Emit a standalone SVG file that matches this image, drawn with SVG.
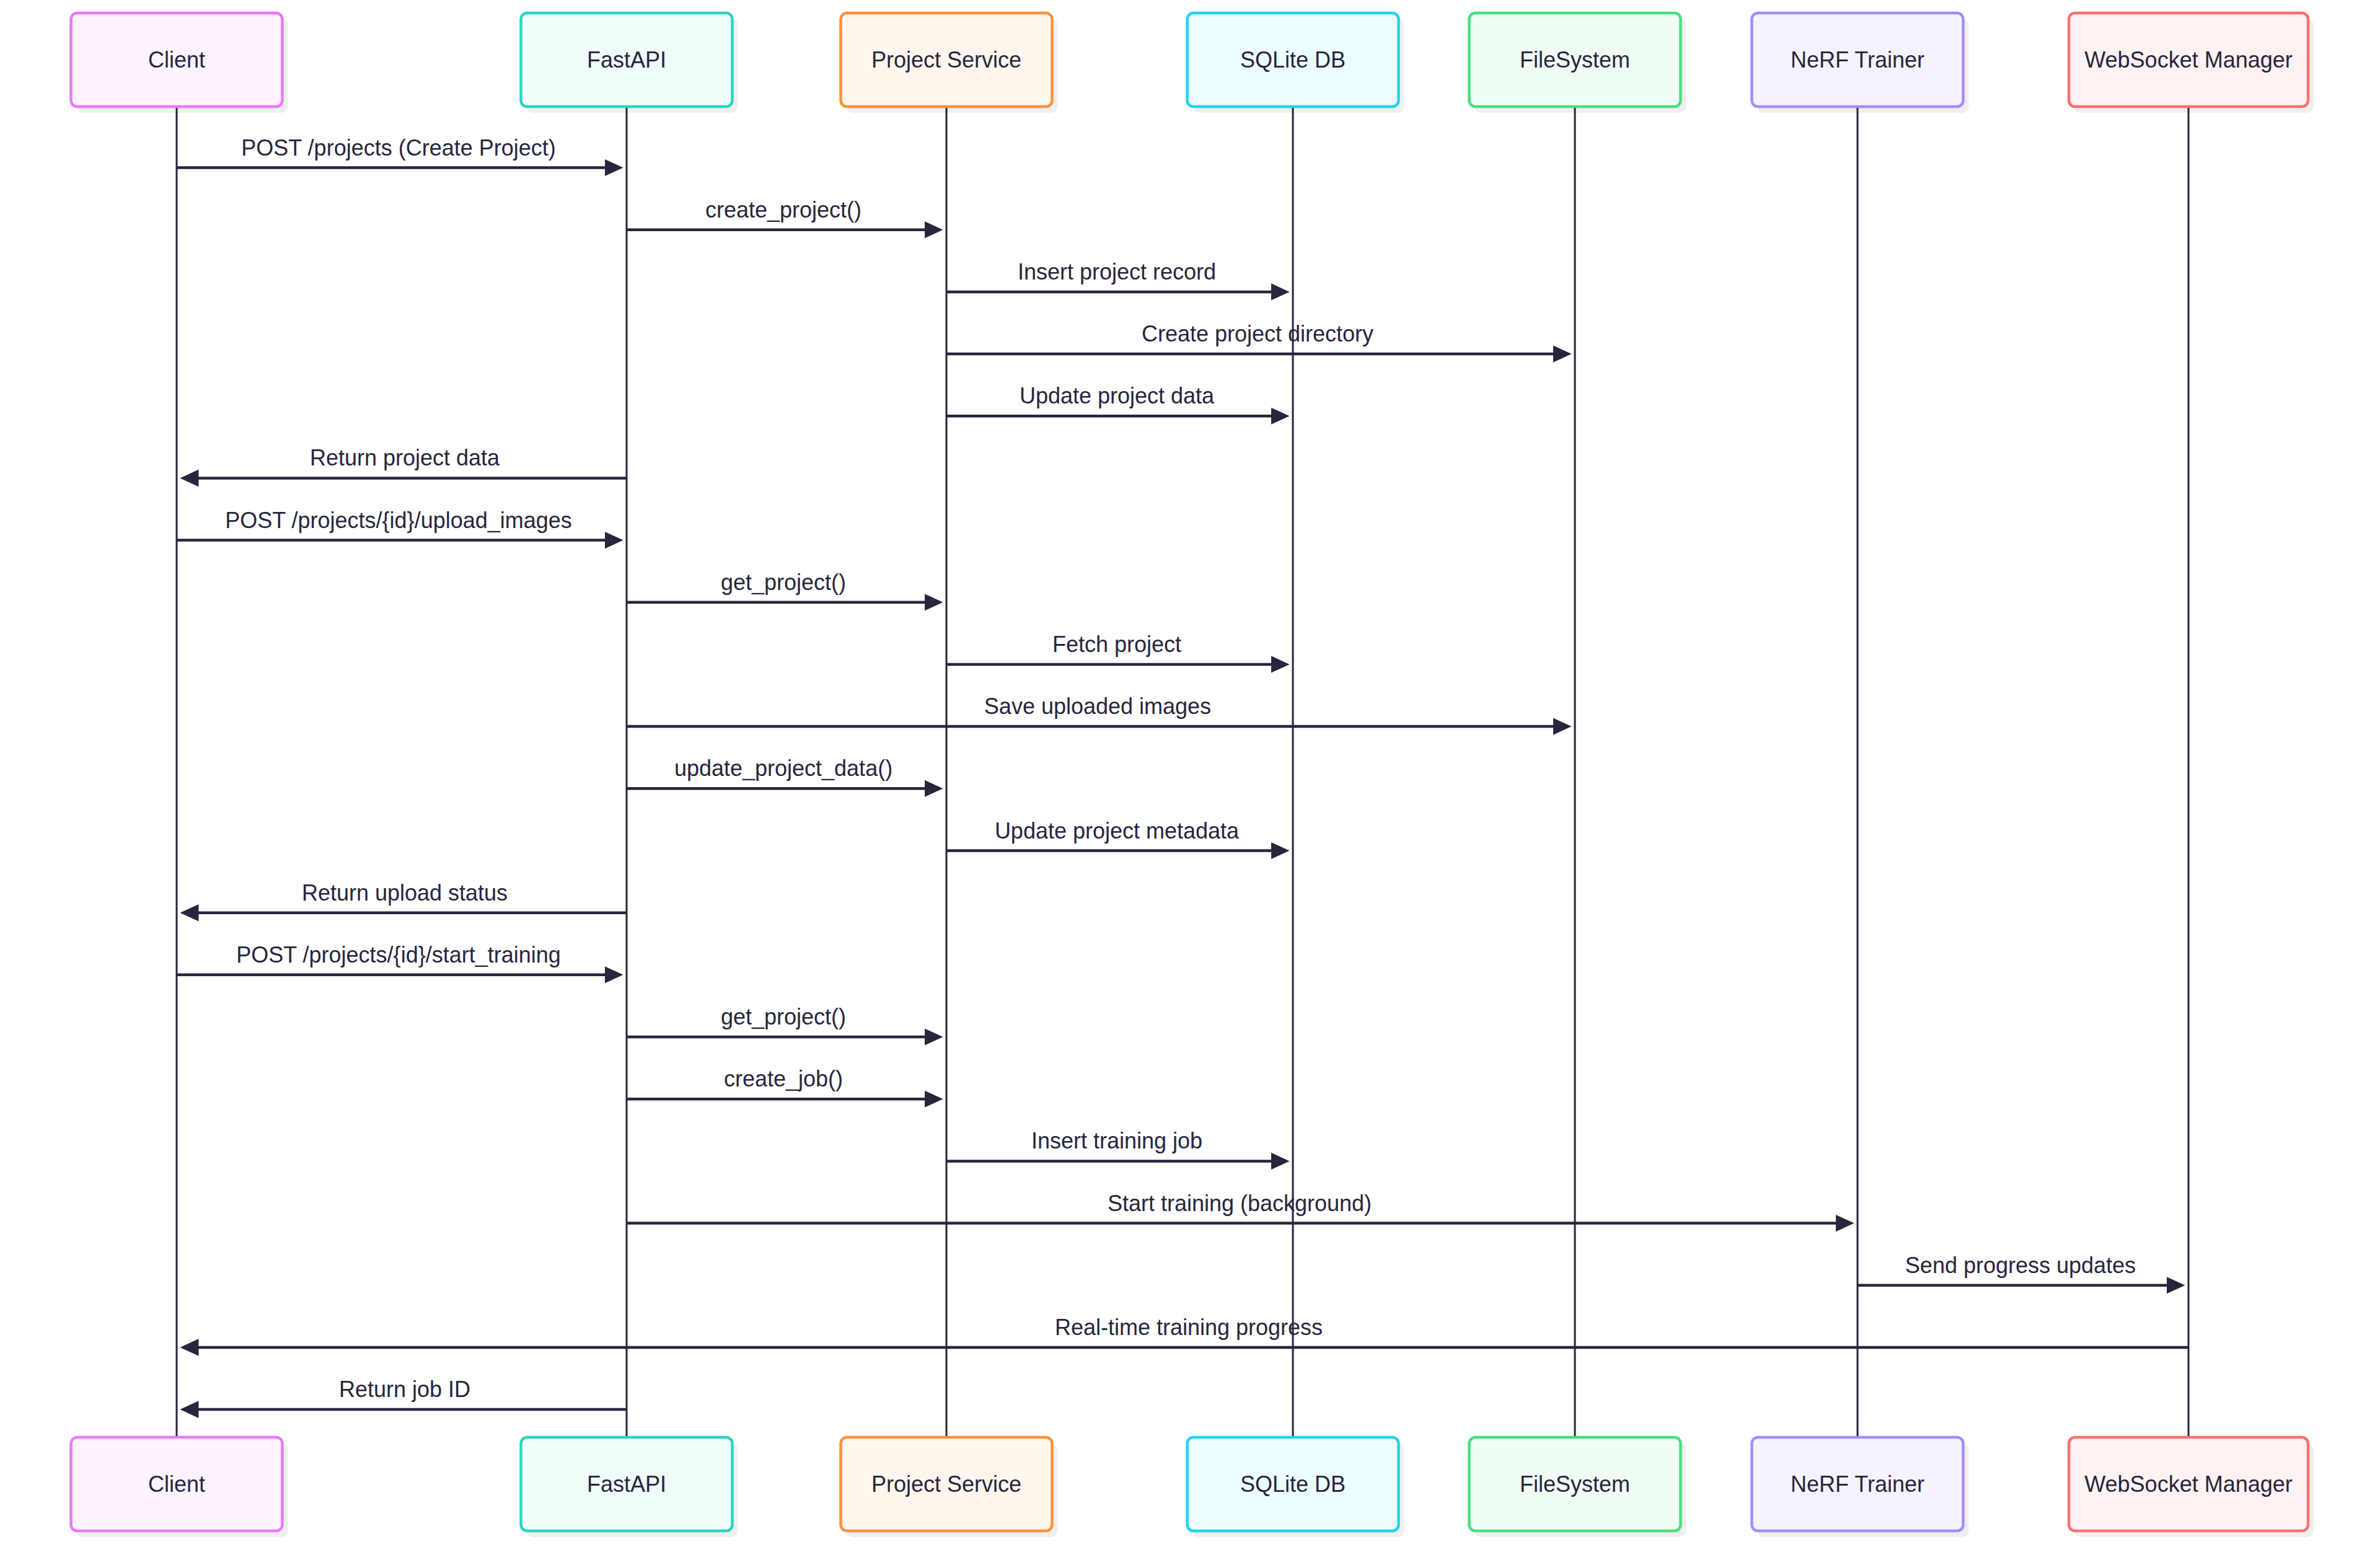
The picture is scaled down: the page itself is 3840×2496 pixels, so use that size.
<svg xmlns="http://www.w3.org/2000/svg" width="3840" height="2496" viewBox="0 0 3840 2496">
<style>
.shadow{fill:#efefef;}
.box{stroke-width:4.5;}
.lbl{font-family:"Liberation Sans",Arial,sans-serif;font-size:36px;fill:#28253d;text-anchor:middle;}
.actor{dominant-baseline:central;}
.life{stroke:#28253d;stroke-width:3;fill:none;}
.msg{stroke:#28253d;stroke-width:4.5;fill:none;}
.r{marker-end:url(#ah);}
</style>
<defs>
<marker id="ah" markerUnits="userSpaceOnUse" markerWidth="30" markerHeight="30" viewBox="0 0 25 24" refX="5" refY="12" orient="auto">
<path d="M0,0.5 L25,12 L0,23.5 z" fill="#28253d"/>
</marker>
</defs>
<rect width="3840" height="2496" fill="#ffffff"/>
<g id="client">
<rect class="shadow" x="123.5" y="31" width="341" height="151" rx="10"/>
<rect class="box" x="114.5" y="21" width="341" height="151" rx="10" fill="#fdf4ff" stroke="#e879f9"/>
<text class="lbl actor" x="285" y="96.5">Client</text>
<rect class="shadow" x="123.5" y="2329" width="341" height="151" rx="10"/>
<rect class="box" x="114.5" y="2319" width="341" height="151" rx="10" fill="#fdf4ff" stroke="#e879f9"/>
<text class="lbl actor" x="285" y="2394.5">Client</text>
</g>
<g id="fastapi">
<rect class="shadow" x="849.5" y="31" width="341" height="151" rx="10"/>
<rect class="box" x="840.5" y="21" width="341" height="151" rx="10" fill="#f0fdfa" stroke="#2dd4bf"/>
<text class="lbl actor" x="1011" y="96.5">FastAPI</text>
<rect class="shadow" x="849.5" y="2329" width="341" height="151" rx="10"/>
<rect class="box" x="840.5" y="2319" width="341" height="151" rx="10" fill="#f0fdfa" stroke="#2dd4bf"/>
<text class="lbl actor" x="1011" y="2394.5">FastAPI</text>
</g>
<g id="project-service">
<rect class="shadow" x="1365.5" y="31" width="341" height="151" rx="10"/>
<rect class="box" x="1356.5" y="21" width="341" height="151" rx="10" fill="#fff7ed" stroke="#fb923c"/>
<text class="lbl actor" x="1527" y="96.5">Project Service</text>
<rect class="shadow" x="1365.5" y="2329" width="341" height="151" rx="10"/>
<rect class="box" x="1356.5" y="2319" width="341" height="151" rx="10" fill="#fff7ed" stroke="#fb923c"/>
<text class="lbl actor" x="1527" y="2394.5">Project Service</text>
</g>
<g id="sqlite-db">
<rect class="shadow" x="1924.5" y="31" width="341" height="151" rx="10"/>
<rect class="box" x="1915.5" y="21" width="341" height="151" rx="10" fill="#ecfeff" stroke="#22d3ee"/>
<text class="lbl actor" x="2086" y="96.5">SQLite DB</text>
<rect class="shadow" x="1924.5" y="2329" width="341" height="151" rx="10"/>
<rect class="box" x="1915.5" y="2319" width="341" height="151" rx="10" fill="#ecfeff" stroke="#22d3ee"/>
<text class="lbl actor" x="2086" y="2394.5">SQLite DB</text>
</g>
<g id="filesystem">
<rect class="shadow" x="2379.5" y="31" width="341" height="151" rx="10"/>
<rect class="box" x="2370.5" y="21" width="341" height="151" rx="10" fill="#f0fdf4" stroke="#4ade80"/>
<text class="lbl actor" x="2541" y="96.5">FileSystem</text>
<rect class="shadow" x="2379.5" y="2329" width="341" height="151" rx="10"/>
<rect class="box" x="2370.5" y="2319" width="341" height="151" rx="10" fill="#f0fdf4" stroke="#4ade80"/>
<text class="lbl actor" x="2541" y="2394.5">FileSystem</text>
</g>
<g id="nerf-trainer">
<rect class="shadow" x="2835.5" y="31" width="341" height="151" rx="10"/>
<rect class="box" x="2826.5" y="21" width="341" height="151" rx="10" fill="#f5f3ff" stroke="#a78bfa"/>
<text class="lbl actor" x="2997" y="96.5">NeRF Trainer</text>
<rect class="shadow" x="2835.5" y="2329" width="341" height="151" rx="10"/>
<rect class="box" x="2826.5" y="2319" width="341" height="151" rx="10" fill="#f5f3ff" stroke="#a78bfa"/>
<text class="lbl actor" x="2997" y="2394.5">NeRF Trainer</text>
</g>
<g id="websocket-manager">
<rect class="shadow" x="3347" y="31" width="386" height="151" rx="10"/>
<rect class="box" x="3338" y="21" width="386" height="151" rx="10" fill="#fef2f2" stroke="#f87171"/>
<text class="lbl actor" x="3531" y="96.5">WebSocket Manager</text>
<rect class="shadow" x="3347" y="2329" width="386" height="151" rx="10"/>
<rect class="box" x="3338" y="2319" width="386" height="151" rx="10" fill="#fef2f2" stroke="#f87171"/>
<text class="lbl actor" x="3531" y="2394.5">WebSocket Manager</text>
</g>
<g id="lifelines">
<line class="life" x1="285" y1="174" x2="285" y2="2317"/>
<line class="life" x1="1011" y1="174" x2="1011" y2="2317"/>
<line class="life" x1="1527" y1="174" x2="1527" y2="2317"/>
<line class="life" x1="2086" y1="174" x2="2086" y2="2317"/>
<line class="life" x1="2541" y1="174" x2="2541" y2="2317"/>
<line class="life" x1="2997" y1="174" x2="2997" y2="2317"/>
<line class="life" x1="3531" y1="174" x2="3531" y2="2317"/>
</g>
<g id="messages">
<line class="msg r" x1="285" y1="270.5" x2="981.5" y2="270.5"/>
<text class="lbl" x="643" y="250.5">POST /projects (Create Project)</text>
<line class="msg r" x1="1011" y1="370.7" x2="1497.5" y2="370.7"/>
<text class="lbl" x="1264" y="350.7">create_project()</text>
<line class="msg r" x1="1527" y1="470.9" x2="2056.5" y2="470.9"/>
<text class="lbl" x="1802" y="450.9">Insert project record</text>
<line class="msg r" x1="1527" y1="571.1" x2="2511.5" y2="571.1"/>
<text class="lbl" x="2029" y="551.1">Create project directory</text>
<line class="msg r" x1="1527" y1="671.2" x2="2056.5" y2="671.2"/>
<text class="lbl" x="1802" y="651.2">Update project data</text>
<line class="msg r" x1="1011" y1="771.4" x2="314.5" y2="771.4"/>
<text class="lbl" x="653" y="751.4">Return project data</text>
<line class="msg r" x1="285" y1="871.6" x2="981.5" y2="871.6"/>
<text class="lbl" x="643" y="851.6">POST /projects/{id}/upload_images</text>
<line class="msg r" x1="1011" y1="971.8" x2="1497.5" y2="971.8"/>
<text class="lbl" x="1264" y="951.8">get_project()</text>
<line class="msg r" x1="1527" y1="1071.9" x2="2056.5" y2="1071.9"/>
<text class="lbl" x="1802" y="1051.9">Fetch project</text>
<line class="msg r" x1="1011" y1="1172.1" x2="2511.5" y2="1172.1"/>
<text class="lbl" x="1771" y="1152.1">Save uploaded images</text>
<line class="msg r" x1="1011" y1="1272.3" x2="1497.5" y2="1272.3"/>
<text class="lbl" x="1264" y="1252.3">update_project_data()</text>
<line class="msg r" x1="1527" y1="1372.5" x2="2056.5" y2="1372.5"/>
<text class="lbl" x="1802" y="1352.5">Update project metadata</text>
<line class="msg r" x1="1011" y1="1472.7" x2="314.5" y2="1472.7"/>
<text class="lbl" x="653" y="1452.7">Return upload status</text>
<line class="msg r" x1="285" y1="1572.8" x2="981.5" y2="1572.8"/>
<text class="lbl" x="643" y="1552.8">POST /projects/{id}/start_training</text>
<line class="msg r" x1="1011" y1="1673" x2="1497.5" y2="1673"/>
<text class="lbl" x="1264" y="1653">get_project()</text>
<line class="msg r" x1="1011" y1="1773.2" x2="1497.5" y2="1773.2"/>
<text class="lbl" x="1264" y="1753.2">create_job()</text>
<line class="msg r" x1="1527" y1="1873.4" x2="2056.5" y2="1873.4"/>
<text class="lbl" x="1802" y="1853.4">Insert training job</text>
<line class="msg r" x1="1011" y1="1973.6" x2="2967.5" y2="1973.6"/>
<text class="lbl" x="2000" y="1953.6">Start training (background)</text>
<line class="msg r" x1="2997" y1="2073.7" x2="3501.5" y2="2073.7"/>
<text class="lbl" x="3260" y="2053.7">Send progress updates</text>
<line class="msg r" x1="3531" y1="2173.9" x2="314.5" y2="2173.9"/>
<text class="lbl" x="1918" y="2153.9">Real-time training progress</text>
<line class="msg r" x1="1011" y1="2274.1" x2="314.5" y2="2274.1"/>
<text class="lbl" x="653" y="2254.1">Return job ID</text>
</g>
</svg>
